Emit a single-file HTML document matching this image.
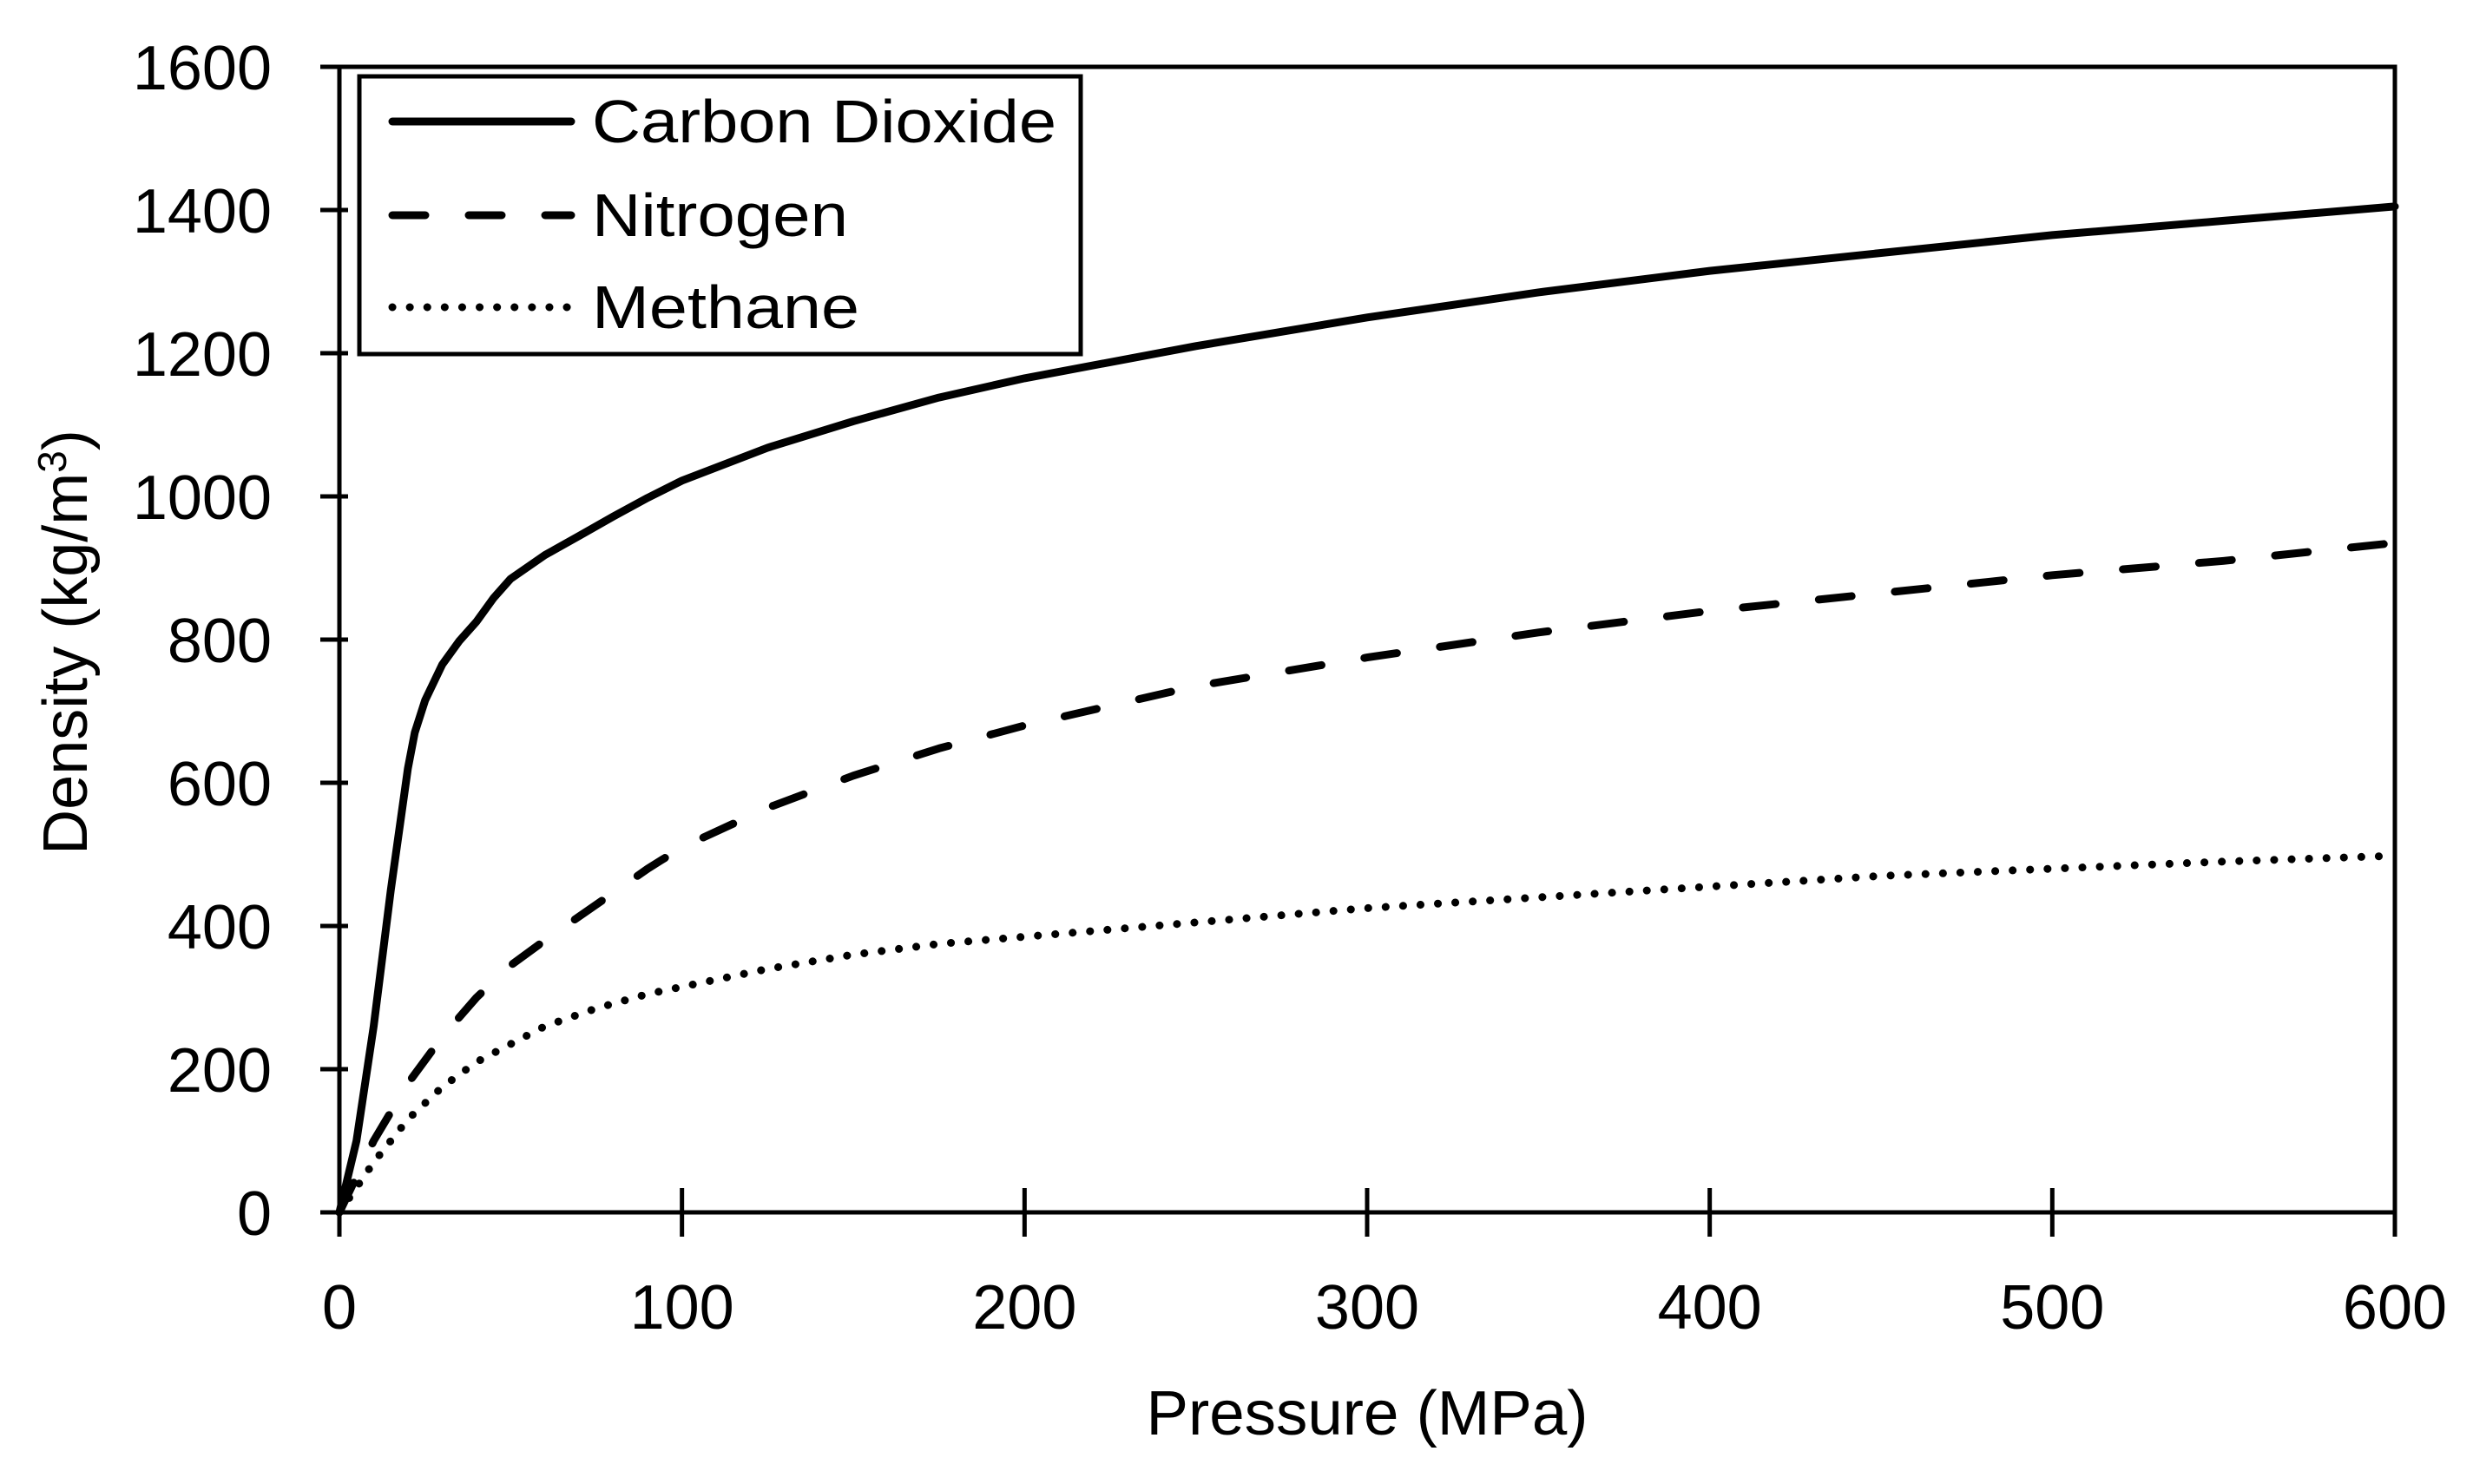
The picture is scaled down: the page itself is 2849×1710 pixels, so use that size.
<!DOCTYPE html>
<html><head><meta charset="utf-8"><style>
body{margin:0;background:#fff}
svg text{font-family:"Liberation Sans",sans-serif;fill:#000}
</style></head><body>
<svg id="chart" width="2849" height="1705" viewBox="0 0 2849 1705" xmlns="http://www.w3.org/2000/svg">
<rect width="2849" height="1705" fill="#fff"/>
<g id="axes"></g>
<g id="series"></g>
<g id="legend">
  <rect x="414" y="88" width="831" height="320" fill="#fff" stroke="#000" stroke-width="5"/>
  <line x1="452" y1="140" x2="658" y2="140" stroke="#000" stroke-width="9" stroke-linecap="round"/>
  <text x="682" y="164" font-size="70" textLength="535" lengthAdjust="spacingAndGlyphs">Carbon Dioxide</text>
  <line x1="452" y1="248" x2="658" y2="248" stroke="#000" stroke-width="9" stroke-linecap="round" stroke-dasharray="38 50"/>
  <text x="682" y="272" font-size="70" textLength="295" lengthAdjust="spacingAndGlyphs">Nitrogen</text>
  <line x1="452" y1="354" x2="658" y2="354" stroke="#000" stroke-width="9" stroke-linecap="round" stroke-dasharray="0.1 20"/>
  <text x="682" y="378" font-size="70" textLength="308" lengthAdjust="spacingAndGlyphs">Methane</text>
</g>
</svg>
<script>
const xTicks=[0,100,200,300,400,500,600];
const yTicks=[0,200,400,600,800,1000,1200,1400,1600];
const co2X=[0,5,10,15,20,22,25,30,35,40,45,50,60,70,80,90,100,125,150,175,200,250,300,350,400,450,500,550,600];
const co2Y=[0,100,260,450,620,670,715,765,798,825,858,885,918,945,972,998,1022,1068,1105,1138,1165,1210,1250,1285,1315,1340,1365,1385,1405];
const n2X=[0,10,20,30,40,50,60,75,90,100,125,150,175,200,250,300,350,400,450,500,550,600];
const n2Y=[0,100,180,245,300,345,380,430,480,510,565,610,648,680,735,775,810,840,865,890,910,935];
const ch4X=[0,10,20,30,40,50,60,75,90,100,125,150,175,200,250,300,350,400,450,500,550,600];
const ch4Y=[0,70,130,175,210,235,260,285,305,315,340,360,375,385,405,425,440,455,470,480,490,498];

const NS="http://www.w3.org/2000/svg";
const X0=391,X1=2759,Y0=1397,Y1=77;
function sx(v){return X0+(v-0)/(600-0)*(X1-X0);}
function sy(v){return Y0-(v-0)/(1600-0)*(Y0-Y1);}
function mk(tag,attrs,parent){const e=document.createElementNS(NS,tag);for(const k in attrs)e.setAttribute(k,attrs[k]);parent.appendChild(e);return e;}
const axes=document.getElementById('axes'), series=document.getElementById('series');

const frame=mk('rect',{x:X0,y:Y1,width:X1-X0,height:Y0-Y1,fill:'none',stroke:'#000','stroke-width':5},axes);



yTicks.forEach(t=>{
  const y=sy(t);
  const l=mk('line',{x1:X0-22,y1:y,x2:X0+10,y2:y,stroke:'#000','stroke-width':5},axes);
  
  
  const tx=mk('text',{x:313,y:y+26,'font-size':72,'text-anchor':'end'},axes);
  tx.textContent=t;
  
  
});
xTicks.forEach(t=>{
  const x=sx(t);
  const l=mk('line',{x1:x,y1:Y0-28,x2:x,y2:Y0+28,stroke:'#000','stroke-width':5},axes);
  
  
  const tx=mk('text',{x:x,y:1531,'font-size':72,'text-anchor':'middle'},axes);
  tx.textContent=t;
  
  
});
const xt=mk('text',{x:1575,y:1653,'font-size':72,'text-anchor':'middle',textLength:509,lengthAdjust:'spacingAndGlyphs'},axes);
xt.textContent='Pressure (MPa)';


const yt=mk('text',{x:0,y:0,'font-size':72,'text-anchor':'middle',transform:'translate(100,740) rotate(-90)'},axes);
yt.innerHTML='Density (kg/m<tspan dy="-24" font-size="46">3</tspan><tspan dy="24">)</tspan>';



function line(xs,ys,dash,name){
  const d=xs.map((x,i)=>(i?'L':'M')+sx(x).toFixed(1)+','+sy(ys[i]).toFixed(1)).join(' ');
  const p=mk('path',{d:d,fill:'none',stroke:'#000','stroke-width':9,'stroke-linecap':'round','stroke-linejoin':'round'},series);
  if(dash)p.setAttribute('stroke-dasharray',dash);
  
  
}
line(co2X,co2Y,null,'co2-line');
line(n2X,n2Y,'38 50','nitrogen-line');
line(ch4X,ch4Y,'0.1 20','methane-line');
</script>
</body></html>
